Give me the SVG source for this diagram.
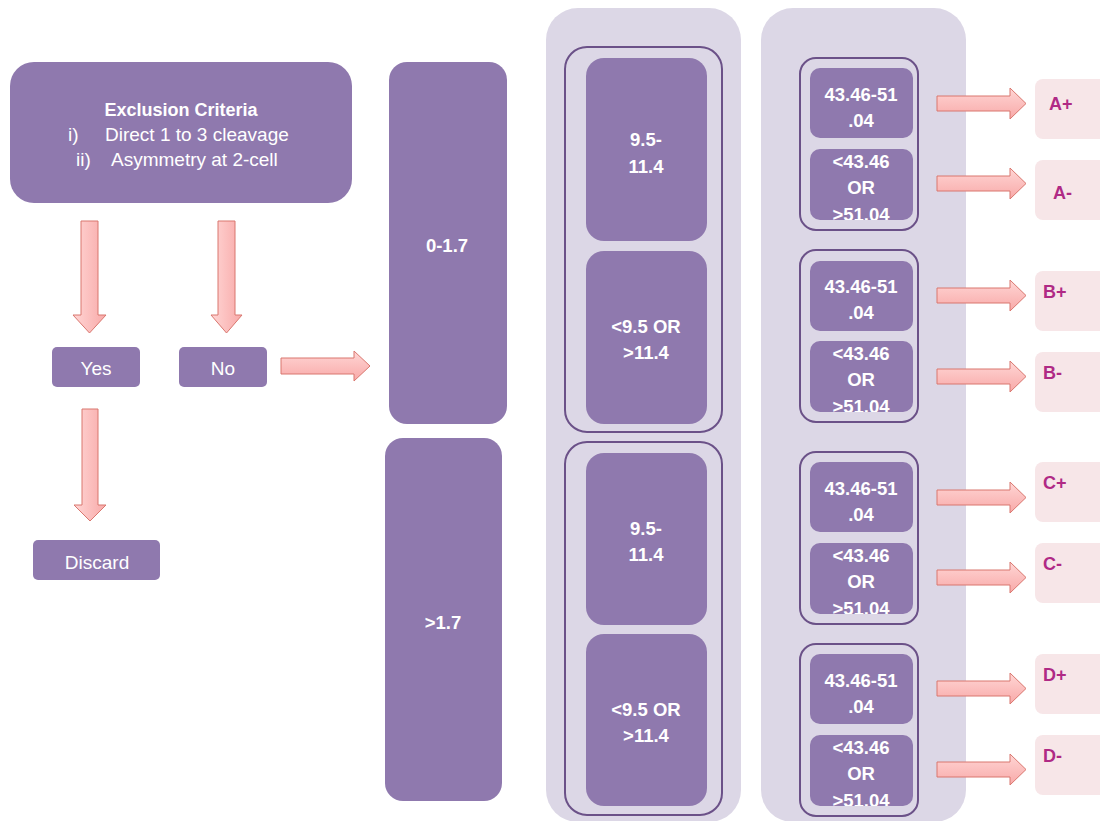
<svg xmlns="http://www.w3.org/2000/svg" width="1100" height="821" viewBox="0 0 1100 821">
<defs>
<linearGradient id="gr" x1="0" y1="0" x2="0" y2="1"><stop offset="0" stop-color="#ffd6d5"/><stop offset="1" stop-color="#f8a9a8"/></linearGradient>
<linearGradient id="gd" x1="0" y1="0" x2="1" y2="0"><stop offset="0" stop-color="#ffd6d5"/><stop offset="1" stop-color="#f8a9a8"/></linearGradient>
<clipPath id="c1"><rect x="810" y="149" width="103" height="71"/></clipPath>
<clipPath id="c2"><rect x="810" y="341" width="103" height="71"/></clipPath>
<clipPath id="c3"><rect x="810" y="543" width="103" height="71"/></clipPath>
<clipPath id="c4"><rect x="810" y="735" width="103" height="71"/></clipPath>
</defs>
<style>
.box{fill:#8f79ae}
.panel{fill:#dcd7e6}
.outl{fill:none;stroke:#6b5188;stroke-width:2}
.grade{fill:#f7e6e8}
.ar{fill:url(#gr);stroke:#d9776f;stroke-width:1}
.ad{fill:url(#gd);stroke:#d9776f;stroke-width:1}
text{font-family:"Liberation Sans",Arial,sans-serif;fill:#ffffff}
.t{font-size:19px}
.h{font-size:18px;font-weight:bold;text-anchor:middle}
.b{font-size:18.5px;font-weight:bold;text-anchor:middle}
.g{font-size:18px;font-weight:bold;fill:#b02a85}
.m{text-anchor:middle}
</style>
<rect width="1100" height="821" fill="#ffffff"/>
<g id="panels">
<rect class="panel" x="546" y="8" width="195" height="814" rx="32"/>
<rect class="panel" x="761" y="8" width="205" height="814" rx="32"/>
</g>
<g id="exclusion">
<rect class="box" x="10" y="62" width="342" height="141" rx="24"/>
<text class="h" x="181" y="116">Exclusion Criteria</text>
<text class="t" x="68" y="141">i)</text>
<text class="t" x="105" y="141">Direct 1 to 3 cleavage</text>
<text class="t" x="76" y="166">ii)</text>
<text class="t" x="111" y="166">Asymmetry at 2-cell</text>
</g>
<g id="yes"><rect class="box" x="52" y="347" width="88" height="40" rx="5"/><text class="t m" x="96" y="375">Yes</text></g>
<g id="no"><rect class="box" x="179" y="347" width="88" height="40" rx="5"/><text class="t m" x="223" y="375">No</text></g>
<g id="discard"><rect class="box" x="33" y="540" width="127" height="40" rx="5"/><text class="t m" x="97" y="569">Discard</text></g>
<g id="r0-1.7"><rect class="box" x="389" y="62" width="118" height="362" rx="18"/><text class="b" x="447" y="252">0-1.7</text></g>
<g id="r1.7"><rect class="box" x="385" y="438" width="117" height="363" rx="18"/><text class="b" x="443" y="629">&gt;1.7</text></g>
<g id="mid1">
<rect class="outl" x="565" y="47" width="157" height="385" rx="22"/>
<rect class="box" x="586" y="58" width="121" height="183" rx="18"/>
<text class="b" x="646" y="146">9.5-</text><text class="b" x="646" y="173">11.4</text>
<rect class="box" x="586" y="251" width="121" height="173" rx="18"/>
<text class="b" x="646" y="333">&lt;9.5 OR</text><text class="b" x="646" y="359">&gt;11.4</text>
</g>
<g id="mid2">
<rect class="outl" x="565" y="442" width="157" height="373" rx="22"/>
<rect class="box" x="586" y="453" width="121" height="172" rx="18"/>
<text class="b" x="646" y="535">9.5-</text><text class="b" x="646" y="561">11.4</text>
<rect class="box" x="586" y="634" width="121" height="172" rx="18"/>
<text class="b" x="646" y="716">&lt;9.5 OR</text><text class="b" x="646" y="742">&gt;11.4</text>
</g>
<g id="right1">
<rect class="outl" x="800" y="58" width="118" height="172" rx="16"/>
<rect class="box" x="810" y="68" width="103" height="70" rx="10"/>
<text class="b" x="861" y="101">43.46-51</text><text class="b" x="861" y="127">.04</text>
<rect class="box" x="810" y="149" width="103" height="71" rx="10"/>
<g clip-path="url(#c1)"><text class="b" x="861" y="168">&lt;43.46</text><text class="b" x="861" y="194">OR</text><text class="b" x="861" y="221">&gt;51.04</text></g>
</g>
<g id="right2">
<rect class="outl" x="800" y="250" width="118" height="172" rx="16"/>
<rect class="box" x="810" y="261" width="103" height="70" rx="10"/>
<text class="b" x="861" y="293">43.46-51</text><text class="b" x="861" y="319">.04</text>
<rect class="box" x="810" y="341" width="103" height="71" rx="10"/>
<g clip-path="url(#c2)"><text class="b" x="861" y="360">&lt;43.46</text><text class="b" x="861" y="386">OR</text><text class="b" x="861" y="413">&gt;51.04</text></g>
</g>
<g id="right3">
<rect class="outl" x="800" y="452" width="118" height="172" rx="16"/>
<rect class="box" x="810" y="462" width="103" height="70" rx="10"/>
<text class="b" x="861" y="495">43.46-51</text><text class="b" x="861" y="521">.04</text>
<rect class="box" x="810" y="543" width="103" height="71" rx="10"/>
<g clip-path="url(#c3)"><text class="b" x="861" y="562">&lt;43.46</text><text class="b" x="861" y="588">OR</text><text class="b" x="861" y="615">&gt;51.04</text></g>
</g>
<g id="right4">
<rect class="outl" x="800" y="644" width="118" height="172" rx="16"/>
<rect class="box" x="810" y="654" width="103" height="70" rx="10"/>
<text class="b" x="861" y="687">43.46-51</text><text class="b" x="861" y="713">.04</text>
<rect class="box" x="810" y="735" width="103" height="71" rx="10"/>
<g clip-path="url(#c4)"><text class="b" x="861" y="754">&lt;43.46</text><text class="b" x="861" y="780">OR</text><text class="b" x="861" y="807">&gt;51.04</text></g>
</g>
<g id="gradeA+"><rect class="grade" x="1035" y="79" width="80" height="60" rx="8"/><text class="g" x="1049" y="110">A+</text></g>
<g id="gradeA-"><rect class="grade" x="1035" y="160" width="80" height="60" rx="8"/><text class="g" x="1053" y="199">A-</text></g>
<g id="gradeB+"><rect class="grade" x="1035" y="271" width="80" height="60" rx="8"/><text class="g" x="1043" y="298">B+</text></g>
<g id="gradeB-"><rect class="grade" x="1035" y="352" width="80" height="60" rx="8"/><text class="g" x="1043" y="379">B-</text></g>
<g id="gradeC+"><rect class="grade" x="1035" y="462" width="80" height="60" rx="8"/><text class="g" x="1043" y="489">C+</text></g>
<g id="gradeC-"><rect class="grade" x="1035" y="543" width="80" height="60" rx="8"/><text class="g" x="1043" y="570">C-</text></g>
<g id="gradeD+"><rect class="grade" x="1035" y="654" width="80" height="60" rx="8"/><text class="g" x="1043" y="681">D+</text></g>
<g id="gradeD-"><rect class="grade" x="1035" y="735" width="80" height="60" rx="8"/><text class="g" x="1043" y="762">D-</text></g>
<g id="connectors">
<polygon class="ad" points="81,221 98,221 98,315 106,315 89.5,333 73,315 81,315"/>
<polygon class="ad" points="218,221 235,221 235,315 242,315 226.5,333 211,315 218,315"/>
<polygon class="ad" points="82,409 98,409 98,505 106,505 90,521 74,505 82,505"/>
<polygon class="ar" points="281,358 354,358 354,351 370,366 354,381 354,374 281,374"/>
<polygon class="ar" points="937,96 1010,96 1010,88 1026,103.5 1010,119 1010,111 937,111"/>
<polygon class="ar" points="937,176 1010,176 1010,168 1026,183.5 1010,199 1010,191 937,191"/>
<polygon class="ar" points="937,288 1010,288 1010,280 1026,295.5 1010,311 1010,303 937,303"/>
<polygon class="ar" points="937,369 1010,369 1010,361 1026,376.5 1010,392 1010,384 937,384"/>
<polygon class="ar" points="937,490 1010,490 1010,482 1026,497.5 1010,513 1010,505 937,505"/>
<polygon class="ar" points="937,570 1010,570 1010,562 1026,577.5 1010,593 1010,585 937,585"/>
<polygon class="ar" points="937,681 1010,681 1010,673 1026,688.5 1010,704 1010,696 937,696"/>
<polygon class="ar" points="937,762 1010,762 1010,754 1026,769.5 1010,785 1010,777 937,777"/>
</g>
</svg>
